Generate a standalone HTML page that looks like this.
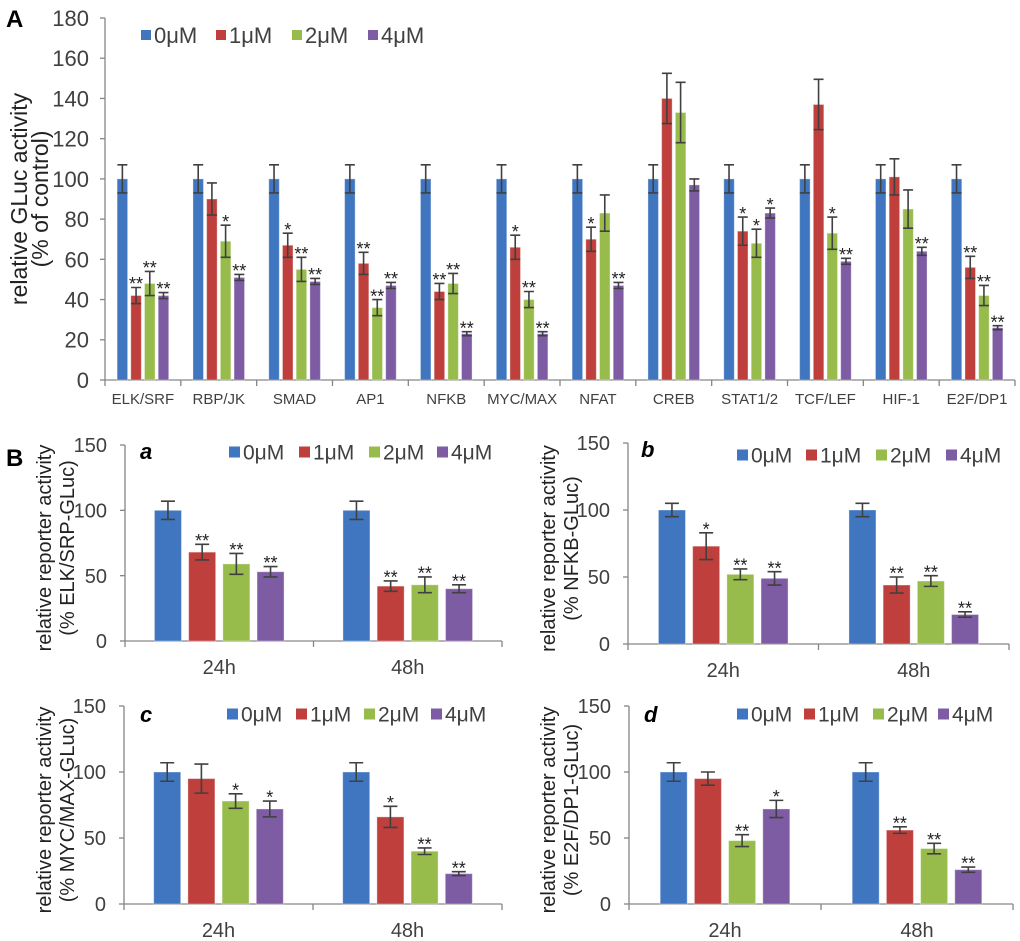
<!DOCTYPE html>
<html><head><meta charset="utf-8"><style>
html,body{margin:0;padding:0;background:#fff;}
svg{display:block;font-family:"Liberation Sans",sans-serif;}
</style></head><body>
<svg id="fig" width="1020" height="941" viewBox="0 0 1020 941" xmlns="http://www.w3.org/2000/svg">
<text x="6" y="27" font-size="24" font-weight="bold" fill="#000">A</text>
<text x="6" y="466" font-size="24" font-weight="bold" fill="#000">B</text>
</svg>
<script>
const seriesNames = ["0μM","1μM","2μM","4μM"];
const colors = ["#3f76bf","#be3f3c","#97bc4b","#7d5ca3"];
// Panel A
const catsA = ["ELK/SRF","RBP/JK","SMAD","AP1","NFKB","MYC/MAX","NFAT","CREB","STAT1/2","TCF/LEF","HIF-1","E2F/DP1"];
const valsA = [[100,42,48,42],[100,90,69,51],[100,67,55,49],[100,58,36,47],[100,44,48,23],[100,66,40,23],[100,70,83,47],[100,140,133,97],[100,74,68,83],[100,137,73,59],[100,101,85,64],[100,56,42,26]];
const errA = [[7,4,6,1.5],[7,8,8,1.5],[7,6,6,1.5],[7,5.5,4,1.5],[7,4,5,1],[7,6,4,1],[7,6,9,1.5],[7,12.5,15,3],[7,7,7,2.5],[7,12.5,8,1.5],[7,9,9.5,2],[7,5.5,5,1]];
const starsA = [["","**","**","**"],["","","*","**"],["","*","**","**"],["","**","**","**"],["","**","**","**"],["","*","**","**"],["","*","","**"],["","","",""],["","*","*","*"],["","","*","**"],["","","","**"],["","**","**","**"]];
const ticksA = [0,20,40,60,80,100,120,140,160,180];
// Panel B
const catsB = ["24h","48h"];
const ticksB = [0,50,100,150];
const valsBa = [[100,68,59,53],[100,42,43,40]];
const errBa = [[7,6,8,4],[7,4,6,3]];
const starsBa = [["","**","**","**"],["","**","**","**"]];
const valsBb = [[100,73,52,49],[100,44,47,22]];
const errBb = [[5,10,4,5],[5,6,4,2]];
const starsBb = [["","*","**","**"],["","**","**","**"]];
const valsBc = [[100,95,78,72],[100,66,40,23]];
const errBc = [[7,11,5.5,6],[7,8,2.5,1.5]];
const starsBc = [["","","*","*"],["","*","**","**"]];
const valsBd = [[100,95,48,72],[100,56,42,26]];
const errBd = [[7,5,4.5,6.5],[7,2.5,4,2]];
const starsBd = [["","","**","*"],["","**","**","**"]];
const ylabBa = "(% ELK/SRP-GLuc)";
const ylabBb = "(% NFKB-GLuc)";
const ylabBc = "(% MYC/MAX-GLuc)";
const ylabBd = "(% E2F/DP1-GLuc)";

const svg = document.getElementById('fig');
const NS = "http://www.w3.org/2000/svg";
function mk(tag, attrs, parent){
  const e = document.createElementNS(NS, tag);
  for (const k in attrs) e.setAttribute(k, attrs[k]);
  (parent||svg).appendChild(e);
  return e;
}

function chart(o){
  const g = mk('g', {});
  
  
  const y = v => o.y0 - (v - 0) / o.ymax * (o.y0 - o.yTop);
  const gw = (o.x1 - o.x0) / o.cats.length;
  const ya = mk('line', {x1:o.x0, y1:o.yTop, x2:o.x0, y2:o.y0, stroke:"#868686", "stroke-width":1.3}, g);
  
  
  o.ticks.forEach(t => {
    mk('line', {x1:o.x0-5, y1:y(t), x2:o.x0, y2:y(t), stroke:"#868686", "stroke-width":1.3}, g);
    const tl = mk('text', {x:o.x0-o.tickGap, y:y(t)+o.tickFs*0.36, "font-size":o.tickFs, "text-anchor":"end", fill:"#404040"}, g);
    tl.textContent = t;
    
    
  });
  const xa = mk('line', {x1:o.x0, y1:o.y0, x2:o.x1, y2:o.y0, stroke:"#868686", "stroke-width":1.3}, g);
  
  
  for (let i=0;i<=o.cats.length;i++){
    mk('line', {x1:o.x0+i*gw, y1:o.y0, x2:o.x0+i*gw, y2:o.y0+6, stroke:"#868686", "stroke-width":1.3}, g);
  }
  o.cats.forEach((c,ci) => {
    const gx = o.x0 + ci*gw;
    const cl = mk('text', {x:gx+gw/2, y:o.catY, "font-size":o.catFs, "text-anchor":"middle", fill:"#404040"}, g);
    cl.textContent = c;
    
    
    const total = 4*o.step - (o.step - o.bw);
    const start = gx + (gw - total)/2;
    o.vals[ci].forEach((v,si) => {
      const bx = start + si*o.step;
      const r = mk('rect', {x:bx, y:y(v), width:o.bw, height:o.y0-y(v), fill:colors[si], stroke:"rgba(255,255,255,0.35)", "stroke-width":1}, g);
      
      
      const e = o.err[ci][si], cx = bx + o.bw/2, cw = o.capW;
      const eb = mk('path', {d:`M${cx},${y(v+e)}V${y(v-e)}M${cx-cw},${y(v+e)}H${cx+cw}M${cx-cw},${y(v-e)}H${cx+cw}`, stroke:"#404040", "stroke-width":1.6, fill:"none"}, g);
      
      
      const s = o.stars[ci][si];
      if (s){
        const st = mk('text', {x:cx, y:y(v+e)+o.starFs*0.15, "font-size":o.starFs, "text-anchor":"middle", fill:"#222"}, g);
        st.textContent = s;
        
        
      }
    });
  });
  seriesNames.forEach((n,i) => {
    const lx = o.legX[i];
    const sq = mk('rect', {x:lx, y:o.legY-o.legSq/2, width:o.legSq, height:o.legSq, fill:colors[i]}, g);
    
    
    const lt = mk('text', {x:lx+o.legSq+3, y:o.legY+o.legFs*0.36, "font-size":o.legFs, fill:"#404040"}, g);
    lt.textContent = n;
    
    
  });
  o.ylab.forEach((t,i) => {
    const yl = mk('text', {x:0, y:0, "font-size":o.ylabFs, "text-anchor":"middle", fill:"#222", transform:`translate(${o.ylabX[i]},${o.ylabY}) rotate(-90)`}, g);
    yl.textContent = t;
    
    
  });
  if (o.letter){
    const lt = mk('text', {x:o.letterX, y:o.letterY, "font-size":22, "font-weight":"bold", "font-style":"italic", fill:"#000"}, g);
    lt.textContent = o.letter;
    
    
  }
}

chart({name:"chart-a-main", cats:catsA, vals:valsA, err:errA, stars:starsA, ticks:ticksA, ymax:180,
  x0:105, x1:1015, y0:380, yTop:18, bw:10.5, step:13.7, capW:5, tickFs:22, tickGap:16, catFs:15, catY:404, starFs:18,
  legX:[141,216,292,368], legY:35, legSq:10, legFs:22,
  ylab:["relative GLuc activity","(% of control)"], ylabX:[27,48], ylabY:199, ylabFs:23});

const bCfg = (name, x0, x1, y0, yTop, vals, err, stars, legX, legY, ylab, ylabX, letter, letterX, letterY) => ({
  name, cats:catsB, vals, err, stars, ticks:ticksB, ymax:150, x0, x1, y0, yTop, bw:27, step:34.2, capW:7,
  tickFs:20, tickGap:18, catFs:20, catY:y0+33, starFs:18, legX, legY, legSq:11, legFs:21,
  ylab:["relative reporter activity", ylab], ylabX, ylabY:(y0+yTop)/2+5, ylabFs:20, letter, letterX, letterY});

chart(bCfg("chart-b-a",125,502,641,445,valsBa,errBa,starsBa,[229,299,369,437],452,ylabBa,[51,74],"a",140,459));
chart(bCfg("chart-b-b",628,1009,644,443,valsBb,errBb,starsBb,[737,806,876,946],455,ylabBb,[555,578],"b",641,457));
chart(bCfg("chart-b-c",124,502,904,706,valsBc,errBc,starsBc,[227,296,364,431],714,ylabBc,[51,74],"c",140,722));
chart(bCfg("chart-b-d",629,1013,904,706,valsBd,errBd,starsBd,[737,804,873,938],714,ylabBd,[555,578],"d",644,722));
</script>
</body></html>
